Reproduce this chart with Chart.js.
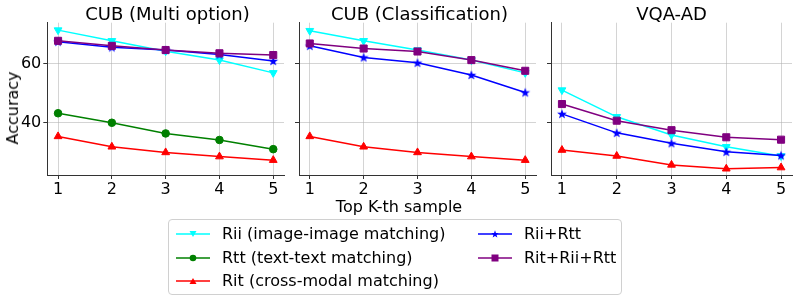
<!DOCTYPE html>
<html>
<head>
<meta charset="utf-8">
<script src="https://cdn.jsdelivr.net/npm/chart.js@4/dist/chart.umd.min.js"></script>
<style>
    body { margin: 0; background: #fff; font-family: "DejaVu Sans", sans-serif; color: #000; }
    #wrap { position: relative; width: 798px; height: 301px; overflow: hidden; }
    canvas { position: absolute; top: 0; }
    .title { position: absolute; top: 5px; font-size: 18px; line-height: 18px; text-align: center; white-space: nowrap; }
    .label { position: absolute; font-size: 16px; line-height: 16px; white-space: nowrap; }
    #legend { position: absolute; left: 168px; top: 219px; width: 452px; height: 74px; border: 1px solid #d0d0d0; border-radius: 4px; background: #fff; }
    .item { position: absolute; font-size: 16px; line-height: 16px; white-space: nowrap; }
    .item svg { position: absolute; left: 0; top: 0; }
    .item span { position: absolute; left: 46px; top: 0; }
</style>
</head>
<body>
<div id="wrap">
    <canvas id="c1" width="290" height="200" style="left:0px"></canvas>
    <canvas id="c2" width="250" height="200" style="left:292px"></canvas>
    <canvas id="c3" width="254" height="200" style="left:544px"></canvas>
    <div class="title" style="left:47px;width:241px">CUB (Multi option)</div>
    <div class="title" style="left:299px;width:241px">CUB (Classification)</div>
    <div class="title" style="left:551px;width:241px">VQA-AD</div>
    <div class="label" style="left:13px;top:108px;transform:translate(-50%,-50%) rotate(-90deg)">Accuracy</div>
    <div class="label" style="left:399px;top:207px;transform:translate(-50%,-50%)">Top K-th sample</div>
    <div id="legend"></div>
</div>
<script>
// x positions and ticks
const xValues = [1, 2, 3, 4, 5];
const yTicks = [40, 60];

// CUB (Multi option)
const riiMulti = [71.2, 67.6, 64.1, 61.1, 56.8];
const rttMulti = [43.2, 40.0, 36.4, 34.2, 31.1];
const ritMulti = [35.4, 31.9, 30.0, 28.6, 27.4];
const riiRttMulti = [67.3, 65.4, 64.5, 63.0, 60.8];
const allMulti = [67.6, 65.9, 64.5, 63.4, 62.8];

// CUB (Classification)
const riiCls = [71.0, 67.6, 64.5, 61.1, 56.8];
const ritCls = [35.4, 31.9, 30.0, 28.6, 27.4];
const riiRttCls = [65.9, 62.0, 60.2, 56.1, 50.2];
const allCls = [66.7, 65.0, 64.0, 61.1, 57.5];

// VQA-AD
const riiVqa = [51.0, 42.0, 35.9, 31.9, 28.8];
const ritVqa = [30.8, 28.8, 25.8, 24.5, 24.9];
const riiRttVqa = [43.0, 36.6, 33.1, 30.2, 29.0];
const allVqa = [46.3, 40.7, 37.5, 35.1, 34.3];

const seriesNames = ['Rii (image-image matching)', 'Rtt (text-text matching)', 'Rit (cross-modal matching)', 'Rii+Rtt', 'Rit+Rii+Rtt'];
const seriesColors = ['#00ffff', '#008000', '#ff0000', '#0000ff', '#800080'];

// filled star like matplotlib '*'
function starPoints(cx, cy, R, r) {
    const pts = [];
    for (let i = 0; i < 10; i++) {
        const rad = i % 2 === 0 ? R : r;
        const a = -Math.PI / 2 + i * Math.PI / 5;
        pts.push([cx + rad * Math.cos(a), cy + rad * Math.sin(a)]);
    }
    return pts;
}
function makeStar(color) {
    const c = document.createElement('canvas');
    c.width = 12; c.height = 12;
    const ctx = c.getContext('2d');
    ctx.fillStyle = color;
    ctx.beginPath();
    starPoints(6, 6.4, 5.2, 2.1).forEach((p, i) => i ? ctx.lineTo(p[0], p[1]) : ctx.moveTo(p[0], p[1]));
    ctx.closePath();
    ctx.fill();
    return c;
}

const markers = [
    { pointStyle: 'triangle', pointRotation: 180, pointRadius: 4.5 },
    { pointStyle: 'circle', pointRotation: 0, pointRadius: 3.8 },
    { pointStyle: 'triangle', pointRotation: 0, pointRadius: 4.5 },
    { pointStyle: makeStar('#0000ff'), pointRotation: 0, pointRadius: 5 },
    { pointStyle: 'rect', pointRotation: 0, pointRadius: 5 }
];

function makeDataset(idx, values) {
    return {
        label: seriesNames[idx],
        data: xValues.map((x, i) => ({ x, y: values[i] })),
        borderColor: seriesColors[idx],
        backgroundColor: seriesColors[idx],
        pointBackgroundColor: seriesColors[idx],
        pointBorderColor: seriesColors[idx],
        pointBorderWidth: 1,
        borderWidth: 1.5,
        tension: 0,
        order: 10 - idx,
        ...markers[idx]
    };
}

function makeChart(id, datasets, yWidth, padRight, showY) {
    const grid = { color: 'rgba(176,176,176,0.55)', lineWidth: 1, tickColor: '#333', tickLength: 4, tickWidth: 1 };
    const border = { display: true, color: '#333', width: 1 };
    return new Chart(document.getElementById(id), {
        type: 'line',
        data: { datasets },
        options: {
            responsive: false,
            animation: false,
            layout: { padding: { top: 22.7, right: padRight, bottom: 0, left: 0 } },
            plugins: { legend: { display: false }, tooltip: { enabled: false } },
            scales: {
                x: {
                    type: 'linear', min: 0.8, max: 5.2,
                    afterBuildTicks: s => { s.ticks = xValues.map(v => ({ value: v })); },
                    afterFit: s => { s.height = 25; },
                    grid, border,
                    ticks: { color: '#000', font: { family: 'DejaVu Sans', size: 16 }, padding: 1, maxRotation: 0 }
                },
                y: {
                    type: 'linear', min: 22.4, max: 73.7,
                    afterBuildTicks: s => { s.ticks = yTicks.map(v => ({ value: v })); },
                    afterFit: s => { s.width = yWidth; },
                    grid, border,
                    ticks: { display: showY, color: '#000', font: { family: 'DejaVu Sans', size: 16 }, padding: 2 }
                }
            }
        }
    });
}

makeChart('c1', [
    makeDataset(0, riiMulti), makeDataset(1, rttMulti), makeDataset(2, ritMulti),
    makeDataset(3, riiRttMulti), makeDataset(4, allMulti)
], 47.3, 2, true);

makeChart('c2', [
    makeDataset(0, riiCls), makeDataset(2, ritCls),
    makeDataset(3, riiRttCls), makeDataset(4, allCls)
], 7, 2, false);

makeChart('c3', [
    makeDataset(0, riiVqa), makeDataset(2, ritVqa),
    makeDataset(3, riiRttVqa), makeDataset(4, allVqa)
], 7, 5, false);

// Legend
function legendIcon(idx) {
    const c = seriesColors[idx];
    let m = '';
    if (idx === 0) m = `<polygon points="13.5,5 20.5,5 17,11" fill="${c}"/>`;
    if (idx === 1) m = `<circle cx="17" cy="8" r="3.3" fill="${c}"/>`;
    if (idx === 2) m = `<polygon points="13.5,11 20.5,11 17,5" fill="${c}"/>`;
    if (idx === 3) m = `<polygon points="${starPoints(17, 8.3, 4, 1.6).map(p => p.join(',')).join(' ')}" fill="${c}"/>`;
    if (idx === 4) m = `<rect x="13.5" y="4.5" width="7" height="7" fill="${c}"/>`;
    return `<svg width="34" height="16"><line x1="0" y1="8" x2="34" y2="8" stroke="${c}" stroke-width="1.5"/>${m}</svg>`;
}
const legendPos = [[7, 6], [7, 30], [7, 53], [309, 6], [309, 30]];
document.getElementById('legend').innerHTML = seriesNames.map((n, i) =>
    `<div class="item" style="left:${legendPos[i][0]}px;top:${legendPos[i][1]}px">${legendIcon(i)}<span>${n}</span></div>`
).join('');
</script>
</body>
</html>
